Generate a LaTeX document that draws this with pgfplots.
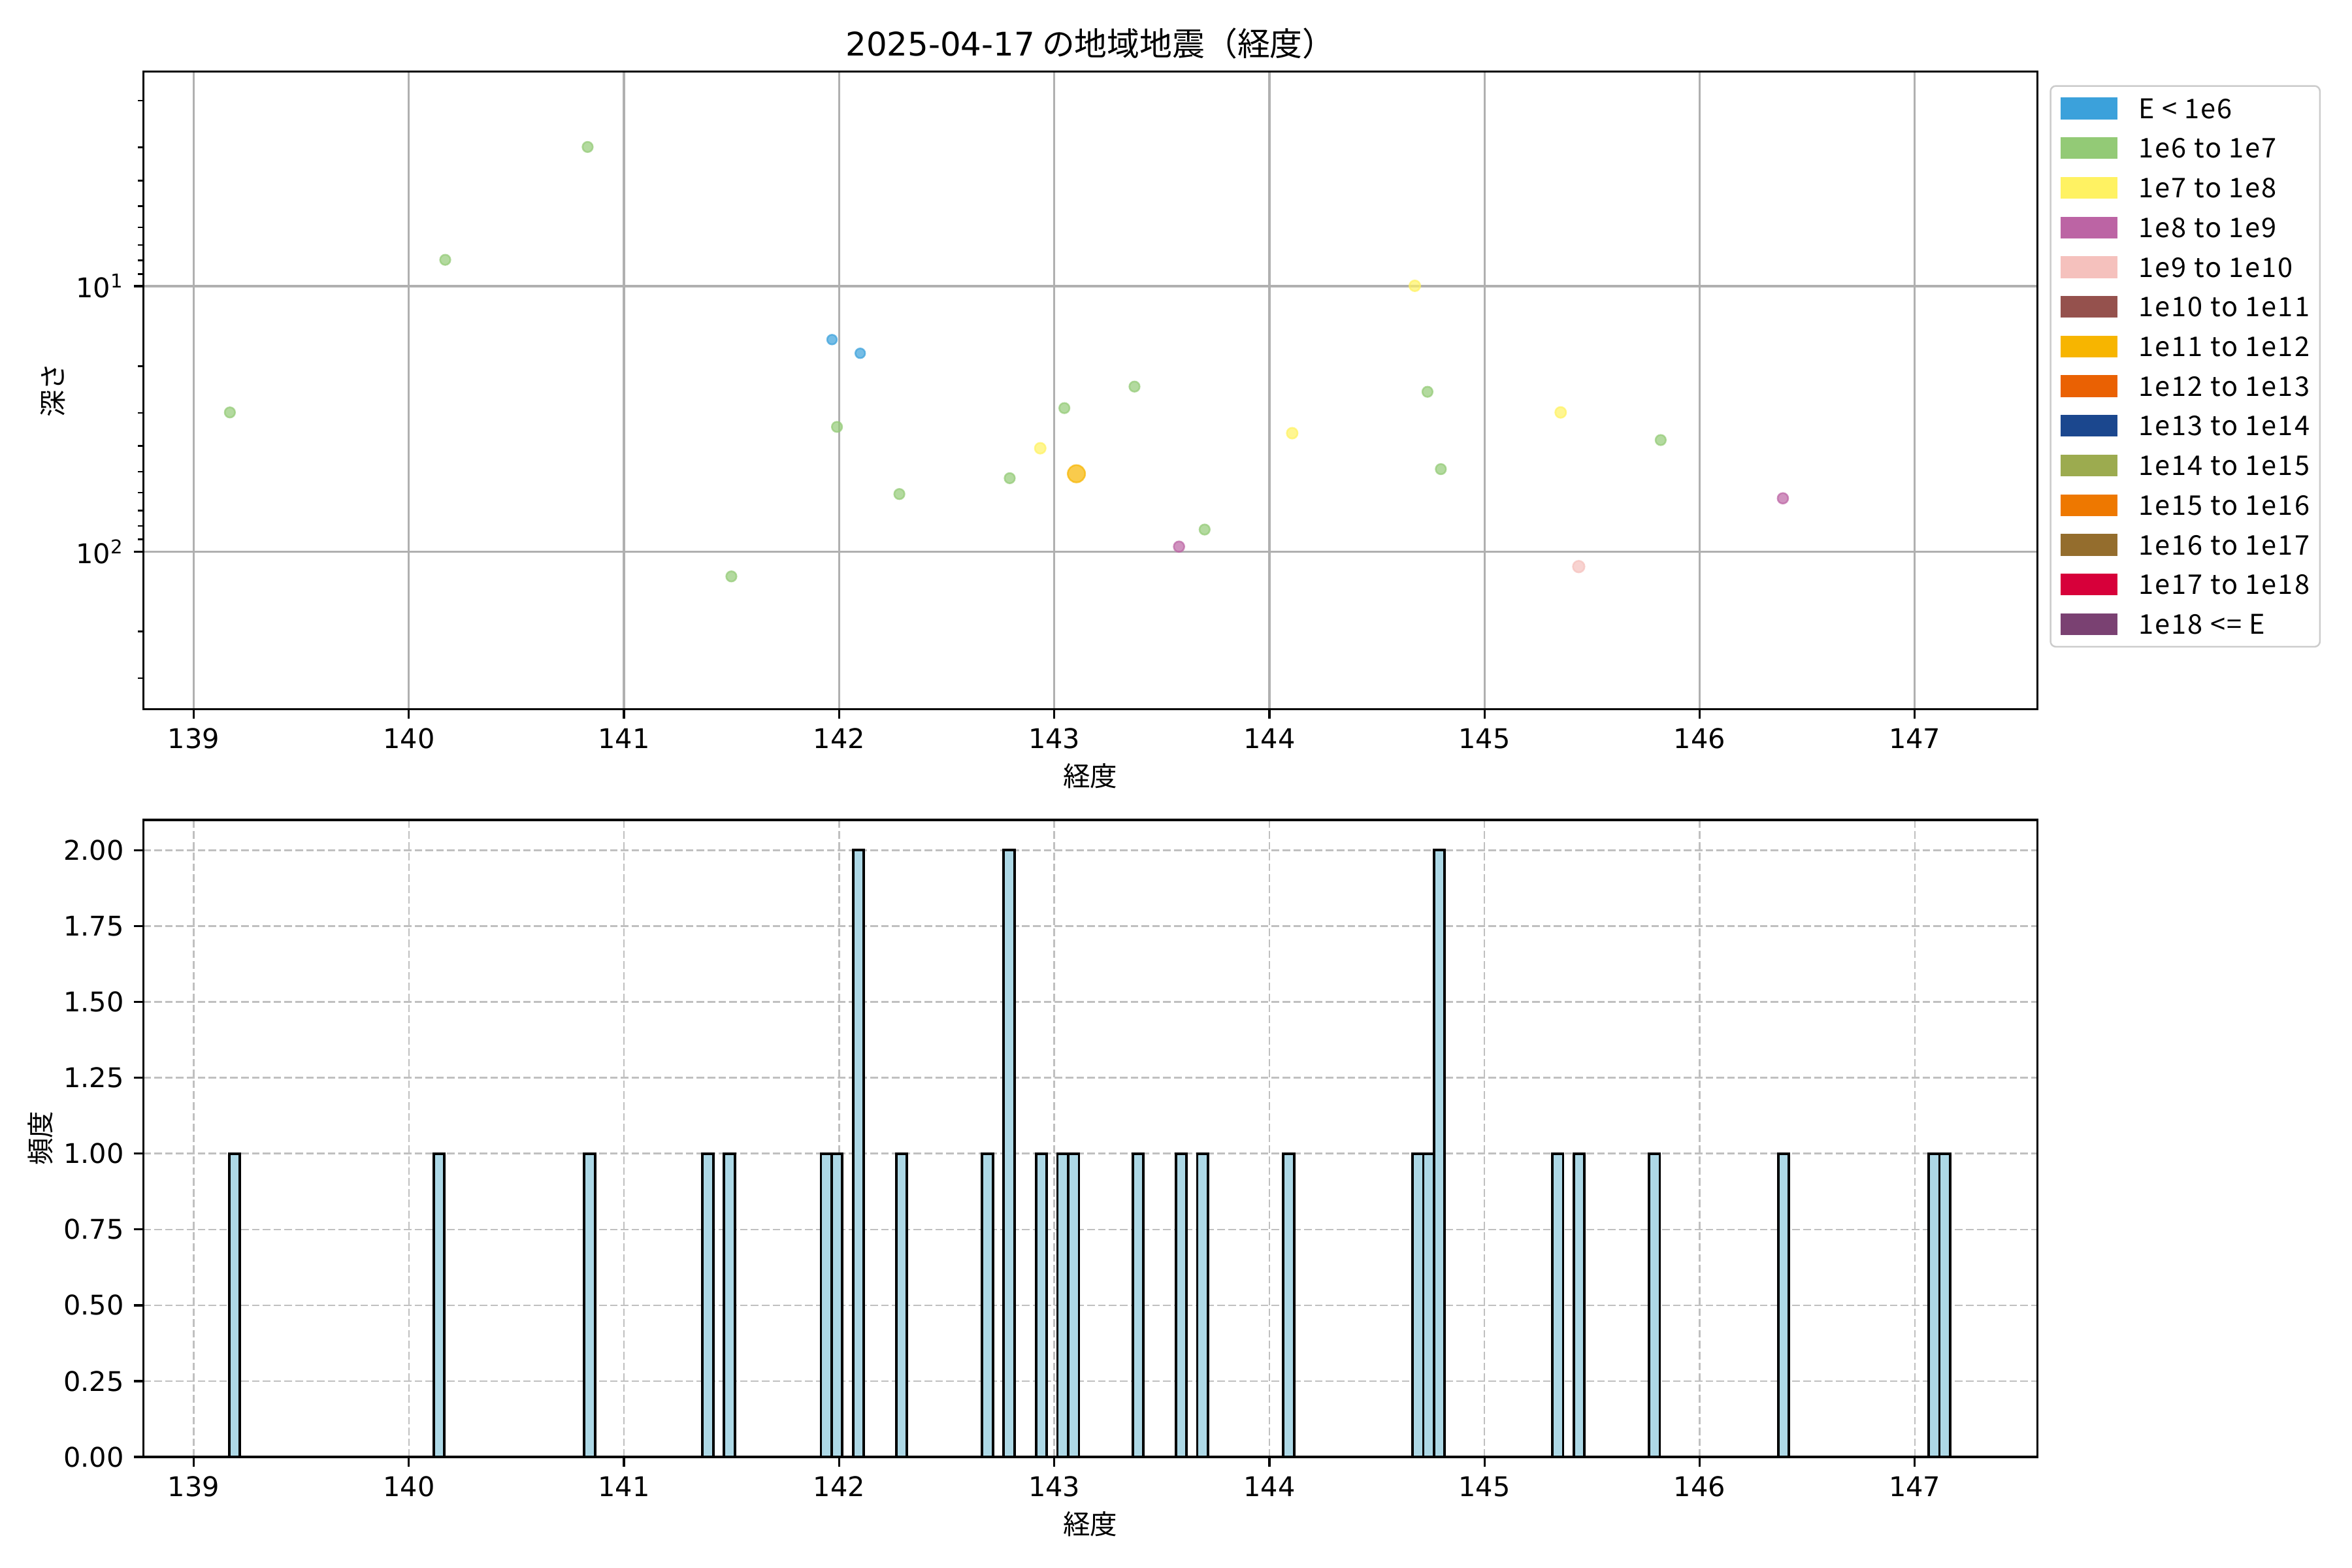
\documentclass[border=0pt]{standalone}
\usepackage{pgfplots}
\pgfplotsset{compat=1.18}
\usepackage{fontspec}
\setmainfont{Noto Sans CJK JP}
\newfontfamily\dejavu{DejaVu Sans}
\newfontfamily\legfont{Noto Sans CJK JP}[LetterSpace=5]
\definecolor{c0}{HTML}{3BA1DB}
\definecolor{c1}{HTML}{93CA76}
\definecolor{c2}{HTML}{FFF262}
\definecolor{c3}{HTML}{BC64A4}
\definecolor{c4}{HTML}{F5C1BD}
\definecolor{c5}{HTML}{95514D}
\definecolor{c6}{HTML}{F7B500}
\definecolor{c7}{HTML}{EA6103}
\definecolor{c8}{HTML}{1B478E}
\definecolor{c9}{HTML}{9CAB4F}
\definecolor{c10}{HTML}{EE7800}
\definecolor{c11}{HTML}{946D2D}
\definecolor{c12}{HTML}{D7003A}
\definecolor{c13}{HTML}{7A4172}
\definecolor{gridgray}{HTML}{B0B0B0}
\definecolor{barblue}{HTML}{ADD8E6}
\pgfplotsset{
  patchleg/.style={legend image code/.code={\fill[##1, draw=none, sharp corners] (0pt,-4pt) rectangle (21pt,4pt); \path (28.4pt,0pt);}},
  pt/.style={only marks, mark=*, forget plot, mark options={fill=#1, draw=#1, line width=0.6pt, fill opacity=0.7, draw opacity=0.7}},
  common/.style={
    scale only axis, width=698.35pt,
    xmin=138.766, xmax=147.570,
    xtick={139,140,141,142,143,144,145,146,147},
    tick align=outside, tick pos=left,
    major tick length=3.5pt, minor tick length=2pt,
    every tick/.style={black, line width=0.8pt},
    every minor tick/.style={black, line width=0.6pt},
    axis line style={line width=0.8pt},
    ticklabel style={font=\dejavu\fontsize{10}{12}\selectfont, inner sep=0pt},
    xticklabel shift=3.5pt, yticklabel shift=3.5pt,
    label style={font=\fontsize{10}{12}\selectfont},
    /pgf/number format/assume math mode=true,
  }
}
\begin{document}
\begin{tikzpicture}
\useasboundingbox (0,0) rectangle (867.24pt,578.16pt);
% ---------- top scatter ----------
\begin{axis}[common,
  at={(52.88pt,316.71pt)}, anchor=south west, height=235.05pt,
  ymode=log, ymin=1.555, ymax=392, y dir=reverse,
  ytick={10,100}, yticklabels={10\textsuperscript{1},10\textsuperscript{2}},
  minor ytick={2,3,4,5,6,7,8,9,20,30,40,50,60,70,80,90,200,300},
  grid=major, major grid style={color=gridgray, line width=0.8pt},
  xlabel={経度}, ylabel={深さ},
  xlabel style={at={(axis description cs:0.5,-0.1047)}, anchor=center},
  ylabel style={at={(axis description cs:-0.0478,0.5)}, anchor=center},
  title={{\dejavu 2025-04-17} の地域地震（経度）},
  title style={at={(axis description cs:0.5,1.0234)}, anchor=base, yshift=-5.6pt, font=\fontsize{12}{14}\selectfont},
  legend cell align=left,
  legend style={at={(1.0065,0.9788)}, anchor=north west,
    draw=black!20, rounded corners=2pt, line width=0.6pt, fill=white,
    inner xsep=3.8pt, inner ysep=4.3pt,
    font=\legfont\fontsize{10}{12}\selectfont,
    nodes={inner sep=0pt, text height=7.3pt, text depth=0pt},
    row sep=6.63pt, column sep=0pt},
]
\addplot[pt=c1, mark size=1.9pt] coordinates {
(139.168,29.9) (140.169,7.96) (140.831,2.99) (141.499,124) (141.990,33.9)
(142.280,60.7) (142.793,52.9) (143.047,28.8) (143.373,23.9) (143.699,82.6)
(144.735,25.0) (144.797,48.9) (145.819,38.0)};
\addplot[pt=c0, mark size=1.8pt] coordinates {(141.967,15.9) (142.098,17.9)};
\addplot[pt=c2, mark size=2.0pt] coordinates {(142.935,40.8) (144.106,35.8) (144.676,9.97) (145.354,29.9)};
\addplot[pt=c6, mark size=3.2pt] coordinates {(143.103,50.9)};
\addplot[pt=c3, mark size=1.95pt] coordinates {(143.580,95.8) (146.387,63.0)};
\addplot[pt=c4, mark size=2.15pt] coordinates {(145.438,113.9)};
\addlegendimage{patchleg, fill=c0}\addlegendentry{E < 1e6}
\addlegendimage{patchleg, fill=c1}\addlegendentry{1e6 to 1e7}
\addlegendimage{patchleg, fill=c2}\addlegendentry{1e7 to 1e8}
\addlegendimage{patchleg, fill=c3}\addlegendentry{1e8 to 1e9}
\addlegendimage{patchleg, fill=c4}\addlegendentry{1e9 to 1e10}
\addlegendimage{patchleg, fill=c5}\addlegendentry{1e10 to 1e11}
\addlegendimage{patchleg, fill=c6}\addlegendentry{1e11 to 1e12}
\addlegendimage{patchleg, fill=c7}\addlegendentry{1e12 to 1e13}
\addlegendimage{patchleg, fill=c8}\addlegendentry{1e13 to 1e14}
\addlegendimage{patchleg, fill=c9}\addlegendentry{1e14 to 1e15}
\addlegendimage{patchleg, fill=c10}\addlegendentry{1e15 to 1e16}
\addlegendimage{patchleg, fill=c11}\addlegendentry{1e16 to 1e17}
\addlegendimage{patchleg, fill=c12}\addlegendentry{1e17 to 1e18}
\addlegendimage{patchleg, fill=c13}\addlegendentry{1e18 <= E}
\end{axis}
% ---------- bottom histogram ----------
\begin{axis}[common,
  at={(52.88pt,40.95pt)}, anchor=south west, height=234.9pt,
  ymin=0, ymax=2.1,
  ytick={0,0.25,0.5,0.75,1,1.25,1.5,1.75,2},
  yticklabel style={/pgf/number format/.cd, fixed, fixed zerofill, precision=2},
  grid=major, major grid style={color=gridgray!80, line width=0.6pt, dash pattern=on 2.8pt off 1.2pt},
  xlabel={経度}, ylabel={頻度},
  xlabel style={at={(axis description cs:0.5,-0.1056)}, anchor=center},
  ylabel style={at={(axis description cs:-0.0543,0.5)}, anchor=center},
]
\addplot[ybar, bar width=0.05, bar shift=0pt, fill=barblue, draw=black, line width=0.9pt] coordinates {
(139.19,1) (140.14,1) (140.84,1) (141.39,1) (141.49,1) (141.94,1) (141.99,1)
(142.09,2) (142.29,1) (142.69,1) (142.79,2) (142.94,1) (143.04,1) (143.09,1)
(143.39,1) (143.59,1) (143.69,1) (144.09,1) (144.69,1) (144.74,1) (144.79,2)
(145.34,1) (145.44,1) (145.79,1) (146.39,1) (147.09,1) (147.14,1)};
\addplot[black, line width=0.9pt] coordinates {(139.165,0) (147.165,0)};
\end{axis}
\end{tikzpicture}
\end{document}
